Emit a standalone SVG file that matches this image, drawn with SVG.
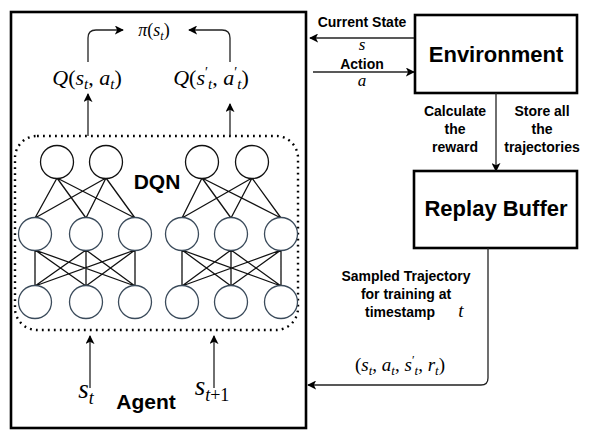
<svg xmlns="http://www.w3.org/2000/svg" width="593" height="443" viewBox="0 0 593 443">
<defs>
<marker id="ah" viewBox="0 0 10 10" refX="9" refY="5" markerWidth="9" markerHeight="9" markerUnits="userSpaceOnUse" orient="auto">
<path d="M0,0 L10,5 L0,10 L2.5,5 Z" fill="#000"/>
</marker>
<style>
.box{fill:#fff;stroke:#000;stroke-width:2.6}
.lbl{font-family:"Liberation Sans",Arial,sans-serif;font-weight:bold;font-size:14px;fill:#000;text-anchor:middle}
.big{font-family:"Liberation Sans",Arial,sans-serif;font-weight:bold;font-size:22px;fill:#000;text-anchor:middle}
.m{font-family:"Liberation Serif","Times New Roman",serif;fill:#000;text-anchor:middle}
.i{font-style:italic}
.c{fill:none;stroke:#222;stroke-width:1.3}
.w{fill:none;stroke:#111;stroke-width:1.3}
.nt{fill:#fff;stroke:#111;stroke-width:1.3}
.nb{fill:#fff;stroke:#3b4b5b;stroke-width:1.3}
</style>
</defs>

<g id="agent">
<rect class="box" x="11" y="12" width="295" height="416"/>
<text class="big" x="146" y="409" style="font-size:21px">Agent</text>
</g>

<g id="environment">
<rect class="box" x="415" y="15" width="162" height="78"/>
<text class="big" x="496" y="62">Environment</text>
</g>

<g id="replay-buffer">
<rect class="box" x="414" y="171" width="163" height="77"/>
<text class="big" x="496" y="216">Replay Buffer</text>
</g>

<g id="dqn">
<rect x="15" y="136" width="283" height="194" rx="22" fill="none" stroke="#000" stroke-width="2.4" stroke-dasharray="1.8 4.2" stroke-linecap="butt"/>
<text class="big" x="157" y="189" style="font-size:21px">DQN</text>
<g class="w">
<path d="M57,178 L35,218 M57,178 L86,218 M57,178 L135,218 M106,178 L35,218 M106,178 L86,218 M106,178 L135,218"/>
<path d="M35,250 L35,286 M35,250 L86,286 M35,250 L135,286 M86,250 L35,286 M86,250 L86,286 M86,250 L135,286 M135,250 L35,286 M135,250 L86,286 M135,250 L135,286"/>
<path d="M202,178 L182,218 M202,178 L231,218 M202,178 L281,218 M252,178 L182,218 M252,178 L231,218 M252,178 L281,218"/>
<path d="M182,250 L182,286 M182,250 L231,286 M182,250 L281,286 M231,250 L182,286 M231,250 L231,286 M231,250 L281,286 M281,250 L182,286 M281,250 L231,286 M281,250 L281,286"/>
</g>
<circle class="nt" cx="57" cy="162" r="16.5"/>
<circle class="nt" cx="106" cy="162" r="16.5"/>
<circle class="nb" cx="35" cy="234" r="16.5"/>
<circle class="nb" cx="86" cy="234" r="16.5"/>
<circle class="nb" cx="135" cy="234" r="16.5"/>
<circle class="nb" cx="35" cy="302" r="16.5"/>
<circle class="nb" cx="86" cy="302" r="16.5"/>
<circle class="nb" cx="135" cy="302" r="16.5"/>
<circle class="nt" cx="202" cy="162" r="16.5"/>
<circle class="nt" cx="252" cy="162" r="16.5"/>
<circle class="nb" cx="182" cy="234" r="16.5"/>
<circle class="nb" cx="231" cy="234" r="16.5"/>
<circle class="nb" cx="281" cy="234" r="16.5"/>
<circle class="nb" cx="182" cy="302" r="16.5"/>
<circle class="nb" cx="231" cy="302" r="16.5"/>
<circle class="nb" cx="281" cy="302" r="16.5"/>
</g>

<g id="math-labels">
<text class="m" x="154" y="36" font-size="18"><tspan class="i">π</tspan>(<tspan class="i">s</tspan><tspan class="i" font-size="12" dy="4">t</tspan><tspan dy="-4">)</tspan></text>
<text class="m" x="87" y="85" font-size="22"><tspan class="i">Q</tspan>(<tspan class="i">s</tspan><tspan class="i" font-size="15" dy="4">t</tspan><tspan dy="-4">, </tspan><tspan class="i">a</tspan><tspan class="i" font-size="15" dy="4">t</tspan><tspan dy="-4">)</tspan></text>
<text class="m" x="211" y="85" font-size="22"><tspan class="i">Q</tspan>(<tspan class="i">s</tspan><tspan font-size="14" dy="-8">′</tspan><tspan class="i" font-size="15" dy="12">t</tspan><tspan dy="-4">, </tspan><tspan class="i">a</tspan><tspan font-size="14" dy="-8">′</tspan><tspan class="i" font-size="15" dy="12">t</tspan><tspan dy="-4">)</tspan></text>
<text class="m" x="86" y="398" font-size="27"><tspan class="i">s</tspan><tspan class="i" font-size="18" dy="6">t</tspan></text>
<text class="m" x="212" y="395" font-size="27"><tspan class="i">s</tspan><tspan font-size="18" dy="6"><tspan class="i">t</tspan>+1</tspan></text>
<text class="m" x="362" y="50" font-size="17"><tspan class="i">s</tspan></text>
<text class="m" x="362" y="86" font-size="17"><tspan class="i">a</tspan></text>
<text class="m" x="461" y="317" font-size="19"><tspan class="i">t</tspan></text>
<text class="m" x="400" y="371" font-size="19">(<tspan class="i">s</tspan><tspan class="i" font-size="13" dy="4">t</tspan><tspan dy="-4">, </tspan><tspan class="i">a</tspan><tspan class="i" font-size="13" dy="4">t</tspan><tspan dy="-4">, </tspan><tspan class="i">s</tspan><tspan font-size="12" dy="-7">′</tspan><tspan class="i" font-size="13" dy="11">t</tspan><tspan dy="-4">, </tspan><tspan class="i">r</tspan><tspan class="i" font-size="13" dy="4">t</tspan><tspan dy="-4">)</tspan></text>
</g>

<g id="text-labels">
<text class="lbl" x="362" y="27">Current State</text>
<text class="lbl" x="362" y="69">Action</text>
<text class="lbl" x="455" y="116">Calculate</text>
<text class="lbl" x="455" y="134">the</text>
<text class="lbl" x="455" y="152">reward</text>
<text class="lbl" x="542" y="116">Store all</text>
<text class="lbl" x="542" y="134">the</text>
<text class="lbl" x="542" y="152">trajectories</text>
<text class="lbl" x="406" y="281">Sampled Trajectory</text>
<text class="lbl" x="406" y="299">for training at</text>
<text class="lbl" x="400" y="317">timestamp</text>
</g>

<g id="connectors" class="c" marker-end="url(#ah)">
<path d="M88,62 V38 Q88,30 96,30 H123"/>
<path d="M230,62 V38 Q230,30 222,30 H189"/>
<path d="M88,136 V94"/>
<path d="M230,136 V104"/>
<path d="M90,388 V336"/>
<path d="M214,388 V336"/>
<path d="M414,38 H310"/>
<path d="M313,72 H414"/>
<path d="M496,93 V171"/>
<path d="M488,248 V378 Q488,385 481,385 H308"/>
</g>
</svg>
